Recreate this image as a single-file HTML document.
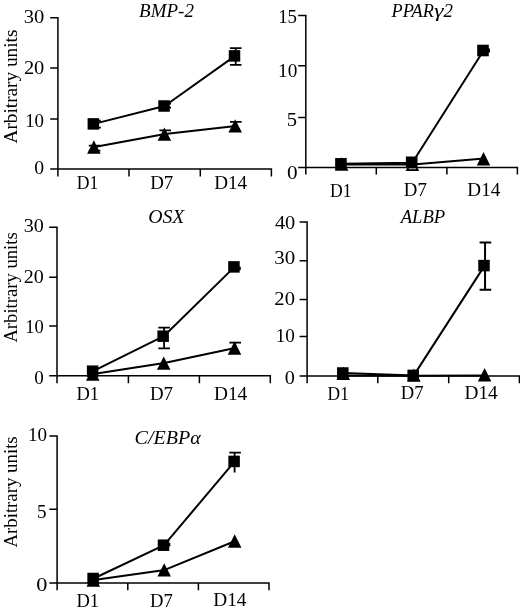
<!DOCTYPE html>
<html><head><meta charset="utf-8"><title>Figure</title>
<style>
html,body{margin:0;padding:0;background:#fff}
svg{display:block}
text{font-family:"Liberation Serif","DejaVu Serif",serif;fill:#000}
.ax{stroke:#000;stroke-width:1.5;fill:none}
.ln{stroke:#000;stroke-width:2;fill:none;stroke-linejoin:round}
.eb{stroke:#000;stroke-width:1.8;fill:none}
.mk{fill:#000;stroke:none}
</style></head><body>
<svg width="520" height="611" viewBox="0 0 520 611">
<rect width="520" height="611" fill="#fff"/>
<path d="M57.9 16.95V176.5M50.2 169H272.15M50.2 17.7H57.9M50.2 68.1H57.9M50.2 119H57.9M129 169V176.5M200.3 169V176.5M271.4 169V176.5" class="ax"/>
<text transform="translate(23.82 22.80) scale(1.0646 1)" font-size="19.3">30</text>
<text transform="translate(23.88 73.50) scale(1.0617 1)" font-size="19.3">20</text>
<text transform="translate(25.15 127.20) scale(0.9771 1)" font-size="19.3">10</text>
<text transform="translate(34.16 174.40) scale(1.0241 1)" font-size="19.3">0</text>
<text transform="translate(76.77 188.80) scale(0.9150 1)" font-size="19.3">D1</text>
<text transform="translate(150.13 188.80) scale(0.9806 1)" font-size="19.3">D7</text>
<text transform="translate(214.13 188.80) scale(0.9915 1)" font-size="19.3">D14</text>
<text transform="translate(139.11 17.00) scale(0.9836 1)" font-style="italic" font-size="19.3">BMP-2</text>
<polyline points="94.45,147.05 165.00,134.1 235.80,125.9" class="ln"/>
<polyline points="93.95,123.9 164.65,106 235.10,55.9" class="ln"/>
<path d="M235.7 48.2V64.9M229.90 48.2H241.50M229.90 64.9H241.50" class="eb"/>
<path d="M165.2 130.3V135M159.40 130.3H171.00" class="eb"/>
<path d="M235.8 121.8V127M230.00 121.8H241.60" class="eb"/>
<path d="M94.6 145.7V150.6M88.80 145.7H100.40M88.80 150.6H100.40" class="eb"/>
<path d="M95 120.7V127.6M89.20 120.7H100.80M89.20 127.6H100.80" class="eb"/>
<path d="M165.2 103.6V107.7M159.40 103.6H171.00M159.40 107.7H171.00" class="eb"/>
<path d="M93.85 140.35L100.60 153.75H87.10Z" class="mk"/>
<path d="M164.4 127.40L171.15 140.80H157.65Z" class="mk"/>
<path d="M235.2 119.20L241.95 132.60H228.45Z" class="mk"/>
<rect x="87.60" y="118.15" width="11.5" height="11.5" class="mk"/>
<rect x="158.30" y="100.25" width="11.5" height="11.5" class="mk"/>
<rect x="228.75" y="50.15" width="11.5" height="11.5" class="mk"/>
<path d="M305.8 14.85V174.6M298.2 167.5H518.15M298.2 15.6H305.8M298.2 65.7H305.8M298.2 117.5H305.8M376.3 167.5V174.6M446.9 167.5V174.6M517.4 167.5V174.6" class="ax"/>
<text transform="translate(278.15 23.20) scale(0.9799 1)" font-size="19.3">15</text>
<text transform="translate(278.11 77.10) scale(1.0007 1)" font-size="19.3">10</text>
<text transform="translate(286.81 126.30) scale(1.0685 1)" font-size="19.3">5</text>
<text transform="translate(286.91 178.70) scale(1.0972 1)" font-size="19.3">0</text>
<text transform="translate(330.07 196.50) scale(0.9150 1)" font-size="19.3">D1</text>
<text transform="translate(403.83 196.40) scale(0.9761 1)" font-size="19.3">D7</text>
<text transform="translate(467.33 196.20) scale(0.9915 1)" font-size="19.3">D14</text>
<text transform="translate(391.59 17.20) scale(0.9474 1)" font-style="italic" font-size="19.3">PPAR</text>
<text transform="translate(434.19 17.33) scale(1.2122 1.0170)" font-style="italic" font-size="19.3">γ</text>
<text transform="translate(443.40 17.20) scale(0.9766 1)" font-style="italic" font-size="19.3">2</text>
<polyline points="342.25,164.5 413.00,164.4 484.10,158.6" class="ln"/>
<polyline points="341.55,163.7 412.30,162.8 483.60,50.5" class="ln"/>
<path d="M484.2 49.5V51.5M478.40 49.5H490.00M478.40 51.5H490.00" class="eb"/>
<path d="M341.65 157.30L348.40 170.70H334.90Z" class="mk"/>
<path d="M412.4 157.60L419.15 171.00H405.65Z" class="mk"/>
<path d="M483.5 152.10L490.25 165.50H476.75Z" class="mk"/>
<rect x="335.15" y="158.05" width="11.6" height="11.6" class="mk"/>
<rect x="405.90" y="156.50" width="11.6" height="11.6" class="mk"/>
<rect x="477.20" y="44.70" width="11.6" height="11.6" class="mk"/>
<rect x="408.8" y="168.25" width="7.2" height="1.0" fill="#b4b4b4"/>
<path d="M57.0 226.55V383.3M49.2 375.8H271.05M49.2 227.3H57.0M49.2 277.2H57.0M49.2 325.9H57.0M128.4 375.8V383.3M199.4 375.8V383.3M270.3 375.8V383.3" class="ax"/>
<text transform="translate(23.64 232.20) scale(1.0419 1)" font-size="19.3">30</text>
<text transform="translate(23.70 282.60) scale(1.0391 1)" font-size="19.3">20</text>
<text transform="translate(25.18 333.30) scale(0.9593 1)" font-size="19.3">10</text>
<text transform="translate(34.19 383.80) scale(0.9875 1)" font-size="19.3">0</text>
<text transform="translate(76.44 399.50) scale(0.9608 1)" font-size="19.3">D1</text>
<text transform="translate(149.93 399.50) scale(0.9806 1)" font-size="19.3">D7</text>
<text transform="translate(213.92 399.50) scale(1.0038 1)" font-size="19.3">D14</text>
<text transform="translate(148.21 223.20) scale(1.0249 1)" font-style="italic" font-size="19.3">OSX</text>
<polyline points="93.35,374.0 164.30,363.1 235.10,348.0" class="ln"/>
<polyline points="93.20,371.2 163.75,336.2 234.55,266.9" class="ln"/>
<path d="M164.1 327.6V348.4M158.30 327.6H169.90M158.30 348.4H169.90" class="eb"/>
<path d="M235.2 342.6V348M229.40 342.6H241.00" class="eb"/>
<path d="M235.0 267.6V269.0M229.20 267.6H240.80M229.20 269.0H240.80" class="eb"/>
<path d="M92.75 367.30L99.50 380.70H86.00Z" class="mk"/>
<path d="M163.7 356.40L170.45 369.80H156.95Z" class="mk"/>
<path d="M234.5 341.30L241.25 354.70H227.75Z" class="mk"/>
<rect x="86.85" y="365.45" width="11.5" height="11.5" class="mk"/>
<rect x="157.40" y="330.45" width="11.5" height="11.5" class="mk"/>
<rect x="228.20" y="261.15" width="11.5" height="11.5" class="mk"/>
<path d="M307.1 221.15V383.3M299.6 375.9H520.15M299.6 221.9H307.1M299.6 260.7H307.1M299.6 299.6H307.1M299.6 336.5H307.1M377.8 375.9V383.3M448.7 375.9V383.3M519.4 375.9V383.3" class="ax"/>
<text transform="translate(274.89 229.30) scale(1.0555 1)" font-size="19.3">40</text>
<text transform="translate(274.30 264.40) scale(1.0872 1)" font-size="19.3">30</text>
<text transform="translate(274.37 304.80) scale(1.0673 1)" font-size="19.3">20</text>
<text transform="translate(275.72 341.70) scale(0.9948 1)" font-size="19.3">10</text>
<text transform="translate(284.84 383.80) scale(1.0485 1)" font-size="19.3">0</text>
<text transform="translate(327.58 399.50) scale(0.9013 1)" font-size="19.3">D1</text>
<text transform="translate(400.74 399.40) scale(0.9672 1)" font-size="19.3">D7</text>
<text transform="translate(464.42 399.40) scale(1.0038 1)" font-size="19.3">D14</text>
<text transform="translate(400.63 222.80) scale(0.9666 1)" font-style="italic" font-size="19.3">ALBP</text>
<polyline points="343.90,375.4 414.50,375.8 485.20,375.6" class="ln"/>
<polyline points="343.40,373.0 413.80,375.4 484.60,265.6" class="ln"/>
<path d="M485.05 242.4V289.8M479.6 242.4H491.2M479.6 289.8H491.2" class="eb" style="stroke-width:2"/>
<path d="M343.3 366.70L350.05 380.10H336.55Z" class="mk"/>
<path d="M413.9 368.40L420.65 381.80H407.15Z" class="mk"/>
<path d="M484.6 368.00L491.35 381.40H477.85Z" class="mk"/>
<rect x="337.05" y="367.25" width="11.5" height="11.5" class="mk"/>
<rect x="407.45" y="369.65" width="11.5" height="11.5" class="mk"/>
<rect x="478.25" y="259.85" width="11.5" height="11.5" class="mk"/>
<path d="M57.1 435.25V590.3M49.4 583.1H269.75M49.4 436.0H57.1M49.4 509.3H57.1M127.8 583.1V590.3M198.4 583.1V590.3M269.0 583.1V590.3" class="ax"/>
<text transform="translate(27.93 441.00) scale(0.9889 1)" font-size="19.3">10</text>
<text transform="translate(37.10 518.30) scale(0.9912 1)" font-size="19.3">5</text>
<text transform="translate(36.16 590.70) scale(1.1582 1)" font-size="19.3">0</text>
<text transform="translate(76.44 606.60) scale(0.9608 1)" font-size="19.3">D1</text>
<text transform="translate(149.94 606.50) scale(0.9672 1)" font-size="19.3">D7</text>
<text transform="translate(213.22 606.20) scale(1.0007 1)" font-size="19.3">D14</text>
<text transform="translate(134.60 443.70) scale(1.0379 1)" font-style="italic" font-size="19.3">C/EBPα</text>
<polyline points="93.90,580.0 164.80,569.9 235.30,541.0" class="ln"/>
<polyline points="93.70,578.5 164.10,545.2 234.70,461.4" class="ln"/>
<path d="M234.6 452.7V472.4M229.30 452.7H240.90" class="eb"/>
<path d="M164.5 543.9V545.6M158.70 543.9H170.30M158.70 545.6H170.30" class="eb"/>
<path d="M93.3 573.30L100.05 586.70H86.55Z" class="mk"/>
<path d="M164.2 563.20L170.95 576.60H157.45Z" class="mk"/>
<path d="M234.7 534.30L241.45 547.70H227.95Z" class="mk"/>
<rect x="87.35" y="572.75" width="11.5" height="11.5" class="mk"/>
<rect x="157.75" y="539.45" width="11.5" height="11.5" class="mk"/>
<rect x="228.35" y="455.65" width="11.5" height="11.5" class="mk"/>
<text transform="translate(17.20 143.49) rotate(-90) scale(0.9983 1)" font-size="19.3">Arbitrary units</text>
<text transform="translate(17.20 342.59) rotate(-90) scale(0.9665 1)" font-size="19.3">Arbitrary units</text>
<text transform="translate(17.20 547.59) rotate(-90) scale(0.9754 1)" font-size="19.3">Arbitrary units</text>
</svg>
</body></html>
